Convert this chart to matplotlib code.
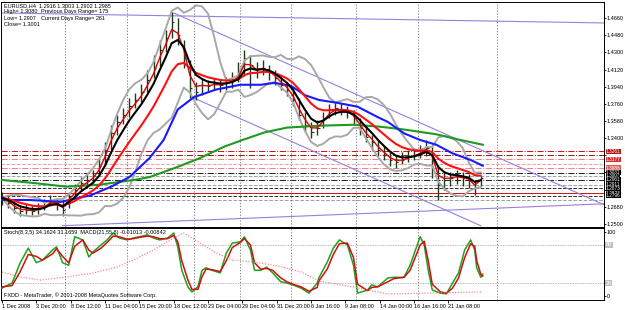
import numpy as np
import pandas as pd
import matplotlib
matplotlib.use("Agg")
import matplotlib.pyplot as plt

W, H = 625, 310
FONT = "Liberation Sans"
FS = 4.0

# EURUSD H4 from 1 Dec 2008, one bar sampled every third H4 bar
bar_step = 3
closes = [1.2771, 1.2719, 1.2666, 1.2634, 1.2645, 1.2634, 1.2655, 1.2687, 1.2750, 1.2719,
          1.2645, 1.2792, 1.2855, 1.2929, 1.2950, 1.3002, 1.3107, 1.3275, 1.3454, 1.3569,
          1.3643, 1.3737, 1.3800, 1.3884, 1.4010, 1.4136, 1.4325, 1.4451, 1.4619, 1.4482,
          1.4241, 1.3926, 1.3884, 1.3958, 1.3947, 1.3968, 1.3958, 1.3979, 1.4010, 1.4063,
          1.4241, 1.4168, 1.4094, 1.4136, 1.4094, 1.4031, 1.3958, 1.3905, 1.3800, 1.3643,
          1.3538, 1.3464, 1.3506, 1.3611, 1.3695, 1.3716, 1.3695, 1.3674, 1.3611, 1.3506,
          1.3412, 1.3359, 1.3275, 1.3223, 1.3170, 1.3149, 1.3170, 1.3202, 1.3223, 1.3254,
          1.3296, 1.3170, 1.2908, 1.2960, 1.2981, 1.3002, 1.2981, 1.2960, 1.2876, 1.2985]
highs = [1.283, 1.279, 1.275, 1.270, 1.271, 1.270, 1.272, 1.276, 1.280, 1.277,
         1.275, 1.283, 1.292, 1.299, 1.302, 1.307, 1.319, 1.336, 1.354, 1.364,
         1.372, 1.382, 1.387, 1.397, 1.412, 1.427, 1.443, 1.454, 1.472, 1.466,
         1.443, 1.422, 1.399, 1.403, 1.401, 1.403, 1.402, 1.404, 1.409, 1.420,
         1.433, 1.427, 1.420, 1.422, 1.417, 1.412, 1.405, 1.399, 1.393, 1.382,
         1.367, 1.357, 1.359, 1.367, 1.376, 1.378, 1.377, 1.374, 1.370, 1.361,
         1.353, 1.343, 1.338, 1.332, 1.325, 1.322, 1.325, 1.328, 1.330, 1.333,
         1.338, 1.333, 1.312, 1.304, 1.304, 1.307, 1.304, 1.302, 1.296, 1.3003]
lows = [1.270, 1.267, 1.261, 1.258, 1.260, 1.259, 1.260, 1.265, 1.269, 1.265,
        1.258, 1.267, 1.278, 1.286, 1.290, 1.293, 1.300, 1.311, 1.328, 1.343,
        1.355, 1.362, 1.372, 1.378, 1.388, 1.403, 1.416, 1.430, 1.445, 1.438,
        1.414, 1.382, 1.380, 1.385, 1.388, 1.391, 1.388, 1.391, 1.393, 1.399,
        1.405, 1.393, 1.403, 1.406, 1.401, 1.396, 1.391, 1.384, 1.374, 1.359,
        1.346, 1.340, 1.343, 1.351, 1.361, 1.364, 1.364, 1.361, 1.354, 1.343,
        1.336, 1.328, 1.321, 1.317, 1.311, 1.309, 1.313, 1.315, 1.317, 1.319,
        1.321, 1.298, 1.275, 1.286, 1.290, 1.292, 1.290, 1.288, 1.280, 1.2902]

# slow moving averages (bar index, price)
blue_bar = [0, 14, 29, 44, 54, 63, 73, 80, 87, 95, 106, 118, 128, 135, 143, 150, 157,
            166, 176, 186, 191, 199, 207, 215, 223, 232, 238]
blue_val = [1.275, 1.275, 1.273, 1.280, 1.289, 1.299, 1.319, 1.338, 1.370, 1.383, 1.391,
            1.396, 1.396, 1.398, 1.395, 1.385, 1.380, 1.377, 1.373, 1.362, 1.357, 1.345,
            1.338, 1.333, 1.324, 1.317, 1.311]
green_bar = [0, 15, 32, 48, 65, 73, 86, 98, 110, 119, 130, 141, 157, 174, 187, 199, 215, 227, 238]
green_val = [1.296, 1.293, 1.289, 1.291, 1.296, 1.299, 1.309, 1.319, 1.331, 1.338, 1.346,
             1.351, 1.353, 1.354, 1.352, 1.349, 1.344, 1.338, 1.333]

# trend lines (start bar, start price, end bar, end price)
trend_b0 = [-1, 85, 94, 30]
trend_p0 = [1.4714, 1.4714, 1.3830, 1.2480]
trend_b1 = [298, 298, 237, 298]
trend_p1 = [1.4609, 1.2700, 1.2480, 1.2710]

# pivot levels on the right
pivot_levels = [1.3261, 1.3218, 1.3177, 1.3130, 1.3086, 1.3037, 1.3000, 1.2961,
                1.2911, 1.2873, 1.2823, 1.2796, 1.2750]
pivot_colors = ["#d01010", "#802020", "#f08080", "#f0a0a0", "#f08080", "#202020", "#a0a0a0",
                "#202020", "#a0a0a0", "#303030", "#d01010", "#303030", "#a0a0a0"]
pivot_styles = ["-.", "-.", "-.", "--", "-.", "-.", "--", "-.", "--", "--", "-", "--", "--"]
pivot_labels = [1.3261, 1.3177, 1.3086, 1.3037, 1.3007, 1.2961, 1.2911, 1.2873, 1.2823, 1.2796]
label_bg = ["#b01818", "#d83030", "#e06060", "black", "black", "black", "black", "black",
            "black", "black"]

price_ticks = [1.4660, 1.4480, 1.4300, 1.4120, 1.3940, 1.3760, 1.3580, 1.3400, 1.3220,
               1.3040, 1.2860, 1.2680, 1.2500]
hidden_ticks = [1.3220, 1.3040, 1.2860]   # covered by the level labels

week_bars = [31, 62, 95, 118, 143, 175, 206, 245]
date_bars = [0, 17, 34, 51, 68, 85, 102, 119, 136, 153, 170, 187, 204, 221]
date_labels = ["1 Dec 2008", "3 Dec 20:00", "8 Dec 12:00", "11 Dec 04:00", "15 Dec 20:00",
               "18 Dec 12:00", "23 Dec 04:00", "29 Dec 04:00", "31 Dec 20:00", "6 Jan 16:00",
               "9 Jan 08:00", "14 Jan 00:00", "16 Jan 16:00", "21 Jan 08:00"]

# Stochastic(8,3,5) main / signal, MACD signal
stoch_bar = [0, 5, 9, 13, 17, 20, 25, 27, 30, 33, 36, 40, 43, 45, 49, 52, 55, 58, 62, 65,
             68, 72, 75, 78, 82, 85, 87, 89, 92, 94, 97, 99, 101, 104, 108, 111, 114, 118,
             120, 123, 125, 128, 131, 134, 138, 141, 144, 148, 152, 156, 157, 161, 164, 167,
             171, 174, 176, 181, 183, 186, 191, 194, 199, 202, 207, 209, 211, 213, 217, 220,
             223, 226, 229, 232, 234, 235, 237, 238]
stoch_main = [12, 20, 52, 75, 52, 56, 72, 77, 52, 48, 93, 88, 61, 69, 80, 88, 99, 91, 88, 91,
              93, 96, 91, 88, 91, 99, 77, 40, 14, 6, 14, 40, 44, 40, 36, 67, 83, 85,
              93, 72, 40, 40, 45, 36, 22, 20, 17, 12, 4, 20, 29, 53, 75, 88,
              80, 48, 4, 9, 17, 14, 28, 29, 29, 48, 93, 80, 40, 9, 4, 3,
              20, 36, 72, 88, 72, 44, 29, 34]
stoch_signal = [14, 16, 38, 65, 62, 56, 66, 74, 62, 52, 78, 88, 72, 67, 75, 84, 94, 93, 89, 90,
                92, 94, 93, 90, 90, 95, 85, 55, 25, 10, 10, 30, 42, 41, 38, 55, 76, 84,
                90, 80, 52, 42, 43, 40, 28, 22, 18, 14, 7, 13, 24, 42, 65, 82,
                83, 60, 18, 8, 13, 14, 22, 27, 29, 40, 80, 86, 55, 18, 6, 4,
                12, 28, 60, 82, 78, 55, 34, 31]
macd_bar = [0, 9, 19, 32, 45, 57, 65, 75, 85, 90, 98, 106, 114, 128, 139, 148, 157, 174,
            191, 212, 238]
macd_sig = [0.0122, 0.0074, 0.0044, 0.0074, 0.0112, 0.0171, 0.0239, 0.0336, 0.0453, 0.0501,
            0.0404, 0.0307, 0.0239, 0.0210, 0.0171, 0.0122, 0.0035, -0.0024, -0.0092,
            -0.0082, -0.0072]


def rect(x0, y0, x1, y1):
    return [x0 / W, 1 - y1 / H, (x1 - x0) / W, (y1 - y0) / H]


fig = plt.figure(figsize=(W / 100, H / 100), dpi=100, facecolor="white")
ax = fig.add_axes(rect(1, 2, 604, 227))
ax2 = fig.add_axes(rect(1, 228, 604, 300), sharex=ax)

xb = np.arange(len(closes)) * bar_step
s = pd.Series(closes)
red_fast = s.ewm(span=2, adjust=False).mean()
black_ma = s.ewm(span=4, adjust=False).mean()
red_slow = s.ewm(span=9, adjust=False).mean()
bb_mid = s.rolling(7, min_periods=1).mean()
bb_sd = s.rolling(7, min_periods=1).std(ddof=0)

for lv, c, ls in zip(pivot_levels, pivot_colors, pivot_styles):
    ax.axhline(lv, color=c, ls=ls, lw=0.7, zorder=1)
for b in week_bars:
    ax.axvline(b, color="#707070", ls=(0, (1.5, 2)), lw=0.6, zorder=1)
    ax2.axvline(b, color="#707070", ls=(0, (1.5, 2)), lw=0.6, zorder=1)
for b0, p0, b1, p1 in zip(trend_b0, trend_p0, trend_b1, trend_p1):
    ax.plot([b0, b1], [p0, p1], color="#9a7ee0", lw=0.8, zorder=2)

ax.vlines(xb, lows, highs, color="#1f3a1f", lw=1.0, zorder=3)
ax.hlines(closes, xb, xb + 1.2, color="#1f3a1f", lw=0.8, zorder=3)

ax.plot(xb, bb_mid + 2 * bb_sd, color="#a8a8a8", lw=1.4, zorder=4)
ax.plot(xb, bb_mid - 2 * bb_sd, color="#a8a8a8", lw=1.4, zorder=4)
ax.plot(green_bar, green_val, color="#1e9a1e", lw=1.5, zorder=5)
ax.plot(blue_bar, blue_val, color="#1a1aff", lw=1.5, zorder=5)
ax.plot(xb, red_slow, color="#ff1010", lw=1.5, zorder=6)
ax.plot(xb, red_fast, color="#e00000", lw=1.0, zorder=6)
ax.plot(xb, black_ma, color="black", lw=1.5, zorder=7)

ax.set_xlim(-0.5, 298)
ax.set_ylim(1.24665, 1.4829)
ax.yaxis.tick_right()
ax.set_yticks(price_ticks)
ax.set_yticklabels(["" if p in hidden_ticks else f"{p:.4f}" for p in price_ticks],
                   fontsize=FS, family=FONT)
ax.tick_params(axis="y", length=1.5, width=0.6, pad=0.5)
ax.tick_params(axis="x", bottom=False, labelbottom=False)
for sp in ax.spines.values():
    sp.set_linewidth(0.7)

# price labels on the axis for the pivot levels (stacked tightly like the terminal does)
for lv, bg in zip(pivot_labels, label_bg):
    ax.text(1.003, lv, f"{lv:.4f}", transform=ax.get_yaxis_transform(), fontsize=3.4,
            family=FONT, color="white", va="center", ha="left", clip_on=False, zorder=10,
            bbox=dict(boxstyle="square,pad=0.05", fc=bg, ec="none"))

hdr = dict(fontsize=FS, family=FONT, color="black", transform=ax.transAxes, va="top", zorder=11)
ax.text(0.005, 0.995, "EURUSD,H4  1.2916 1.3003 1.2902 1.2985", **hdr)
ax.text(0.005, 0.967, "High= 1.3080", **hdr)
ax.text(0.066, 0.967, "Previous Days Range= 175", **hdr)
ax.text(0.005, 0.939, "Low= 1.2907", **hdr)
ax.text(0.066, 0.939, "Current Days Range= 261", **hdr)
ax.text(0.005, 0.911, "Close= 1.3001", **hdr)

# indicator window
ax2.axhline(80, color="#a0a0a0", lw=0.6, ls=(0, (1, 1)))
ax2.axhline(20, color="#a0a0a0", lw=0.6, ls=(0, (1, 1)))
ax2.plot(stoch_bar, stoch_signal, color="#d01010", lw=1.1, zorder=4)
ax2.plot(stoch_bar, stoch_main, color="#20a020", lw=1.1, zorder=3)
ax2.set_ylim(-6.8, 106.8)
ax3 = ax2.twinx()
ax3.plot(macd_bar, macd_sig, color="#ff7070", lw=0.8, ls=(0, (1, 1.5)))
ax3.set_ylim(-0.015, 0.055)
ax3.axis("off")

ax2.yaxis.tick_right()
ax2.set_yticks([0, 20, 80, 100])
ax2.set_yticklabels(["0", "", "", "100"], fontsize=FS, family=FONT)
for v in (20, 80):
    ax2.text(1.003, v, str(v), transform=ax2.get_yaxis_transform(), fontsize=FS, family=FONT,
             color="white", va="center", ha="left", clip_on=False,
             bbox=dict(boxstyle="square,pad=0.1", fc="#c0c0c0", ec="none"))
ax2.tick_params(axis="y", length=1.5, width=0.6, pad=0.5)
ax2.set_xticks(date_bars)
ax2.set_xticklabels(date_labels, fontsize=FS, family=FONT, ha="left")
ax2.tick_params(axis="x", length=2, width=0.6, pad=1)
for sp in ax2.spines.values():
    sp.set_linewidth(0.7)

ax2.text(0.005, 0.97, "Stoch(8,3,5) 34.1624 31.1659  MACD(21,55,8) -0.01013 -0.00842",
         transform=ax2.transAxes, fontsize=FS, family=FONT, va="top")
ax2.text(0.005, 0.03, "FXDD - MetaTrader, \u00a9 2001-2008 MetaQuotes Software Corp.",
         transform=ax2.transAxes, fontsize=FS, family=FONT, va="bottom")

fig.savefig("out.png", dpi=100, facecolor="white")
